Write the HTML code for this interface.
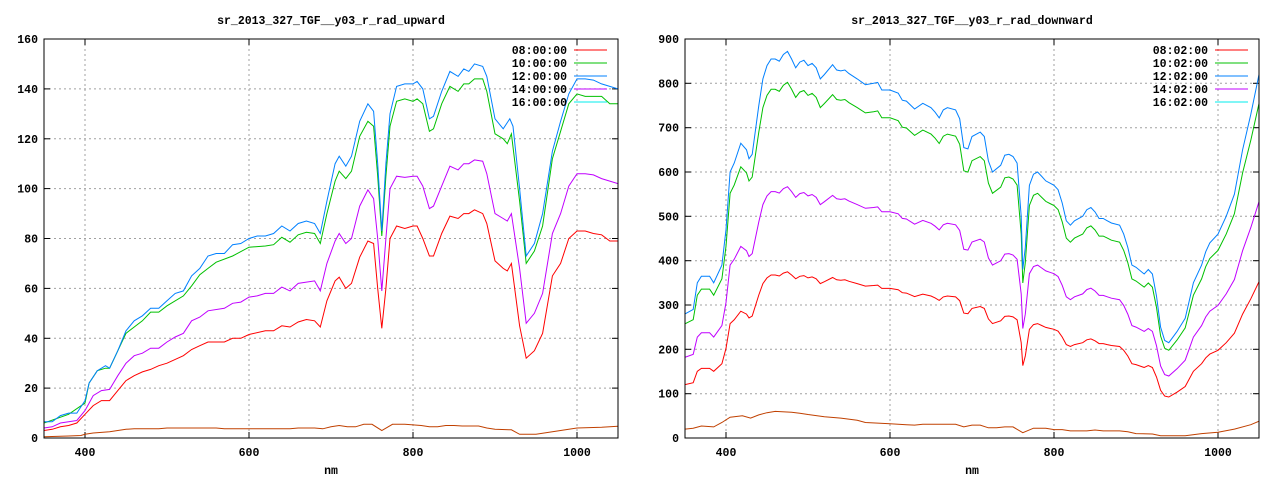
<!DOCTYPE html>
<html><head><meta charset="utf-8"><style>
html,body{margin:0;padding:0;background:#fff;}
svg text{font-family:"Liberation Mono","DejaVu Sans Mono",monospace;font-size:11.5px;font-weight:bold;fill:#000;}
</style></head><body>
<svg id="s" width="1280" height="480" xmlns="http://www.w3.org/2000/svg"></svg>
<script>
const S=document.getElementById('s');
let h='';
function P(a){const o=[];for(let i=0;i<a.length;i+=2)o.push([a[i],a[i+1]]);return o;}
const upB=P([350,6.5,360,6.5,370,9,380,10,390,10,400,15,405,22,415,27,425,29,430,28,440,35,450,43,460,47,470,49,480,52,490,52,500,55,510,58,520,59,530,65,540,68,550,73,560,74,570,74,580,77.5,590,78,600,80,610,81,620,81,630,82,640,85,650,83,660,86,670,87,680,86,687,82,695,95,705,110,710,113,718,109,725,113,735,127,745,134,752,131,757,110,762,83,767,110,772,130,780,141,790,142,800,142,805,143,812,140,820,128,825,129,835,139,845,147,855,145,862,148,868,147,875,150,885,149,890,145,900,128,910,124,918,128,922,125,930,100,938,73,948,78,958,90,970,115,980,127,990,138,1000,144,1010,144,1020,143.5,1030,142,1040,141,1050,140]);
const upG=P([350,6,380,9.5,400,14,405,22,415,27,425,28,430,28,450,42,470,47,480,50.5,490,50.5,500,53,520,57,530,61,540,65.5,550,68,560,70.5,580,73,600,76.5,620,77,630,77.5,640,80.5,650,78.5,660,81.5,670,82.5,680,82,687,78,695,90,705,103,710,107,718,104,725,107,735,121,745,127,752,125,757,105,762,81,767,105,772,125,780,135,790,136,800,135,805,136,812,134,820,123,825,124,835,134,845,141,855,139,862,142,868,142,875,144,885,144,890,139,900,122,910,120,915,118,920,122,930,95,938,70,948,75,958,85,970,112,980,123,990,134,1000,138,1010,137,1030,137,1040,134,1050,134]);
const upP=P([350,4,360,4.5,370,6,380,6.5,390,7,400,11,410,17,420,19,430,19.5,440,25,450,30,460,33,470,34,480,36,490,36,500,38.5,510,40.5,520,42,530,47,540,48.5,550,51,570,52,580,54,590,54.5,600,56.5,610,57,620,58,630,58,640,60.5,650,59,660,62,670,62.5,680,63,687,59,695,70,705,79,710,82,718,78,725,80,735,93,745,99.5,752,96,757,80,762,59,767,80,772,100,780,105,790,104.5,800,105,805,105,812,101,820,92,825,93,835,101,845,109,855,107.5,862,110,868,110,875,111.5,885,111,890,106,900,90,910,88,915,87,920,90,930,68,938,46,948,50,958,58,970,82,980,90,990,101,1000,106,1010,106,1020,105.5,1030,104,1040,103,1050,102]);
const upR=P([350,3,360,3.5,370,4.5,380,5,390,6,400,9.5,410,13,420,15,430,15,440,19,450,23,460,25,470,26.5,480,27.5,490,29,500,30,510,31.5,520,33,530,35.5,540,37,550,38.5,570,38.5,580,40,590,40,600,41.5,620,43,630,43,640,45,650,44.5,660,46.5,670,47.5,680,47,687,44.5,695,55,705,63,710,64.5,718,60,725,62,735,72.5,745,79,752,78,757,60,762,44,767,60,772,80,780,85,790,84,800,85,805,85,812,80,820,73,825,73,835,82,845,89,855,88,862,90,868,90,875,91.5,885,90,890,86,900,71,910,68,915,67,920,70,930,45,938,32,948,35,958,42,970,65,980,70,990,80,1000,83,1010,83,1020,82,1030,81.5,1040,79,1050,79]);
const upO=P([350,0.5,380,0.8,395,1,400,1.5,410,2,430,2.5,450,3.5,460,3.7,490,3.7,500,4,560,4,570,3.7,650,3.7,660,4,680,4,690,3.7,700,4.5,710,5,720,4.5,730,4.5,740,5.5,750,5.5,762,3,775,5.5,790,5.5,810,5,820,4.5,830,4.5,840,5,850,5,860,4.8,880,4.8,890,4,900,3.5,920,3.3,930,1.5,950,1.5,960,2,980,3,990,3.5,1000,4,1030,4.3,1040,4.5,1050,4.7]);
const dnB=P([350,280,360,290,365,350,370,365,380,365,385,350,395,390,400,470,405,600,410,620,418,665,425,650,428,630,432,640,440,750,445,810,450,840,455,855,460,855,465,850,470,865,475,872,480,855,485,835,490,848,495,852,500,840,505,845,510,835,515,810,520,820,530,842,535,830,540,828,545,830,550,822,560,810,570,797,580,800,585,802,590,785,600,785,610,778,615,762,620,760,630,742,640,755,650,745,655,735,660,722,665,740,670,745,680,740,685,720,690,655,695,652,700,680,710,690,715,680,720,625,725,600,735,615,740,638,745,640,750,635,755,620,760,500,762,380,765,430,770,570,775,595,780,600,785,590,790,580,795,575,800,570,805,560,810,530,815,490,820,480,825,490,835,500,840,515,845,520,850,510,855,495,860,495,865,490,870,485,880,480,885,460,890,430,895,390,900,385,910,370,915,380,920,370,925,320,930,250,935,220,940,215,950,240,960,270,965,310,970,350,980,390,985,420,990,440,1000,460,1010,500,1020,550,1030,650,1040,730,1050,820]);
const sc=(a,f)=>a.map(p=>[p[0],p[1]*f]);
const dnO=P([350,20,360,22,370,27,385,25,395,35,405,47,420,50,430,45,440,52,450,57,460,60,480,58,490,56,500,53,520,48,540,45,560,40,570,35,600,32,620,30,630,29,640,31,680,31,690,25,700,29,710,29,720,23,730,23,740,25,750,25,762,12,775,22,790,22,800,19,810,19,820,16,840,16,850,18,860,16,880,16,890,14,900,10,920,9,930,5,960,5,980,10,1000,13,1020,20,1040,30,1050,38]);

function chart(ox,title,ymax,ystep,series,labels){
  const L=ox+44,R=ox+618,T=39,B=438;
  const X=v=>L+(v-350)/700*(R-L), Y=v=>B-v/ymax*(B-T);
  h+=`<text x="${(L+R)/2}" y="24" text-anchor="middle">${title}</text>`;
  for(const xv of [400,600,800,1000]){const x=X(xv).toFixed(1);
    h+=`<line x1="${x}" y1="${T}" x2="${x}" y2="${B}" stroke="#a0a0a0" stroke-dasharray="2,3"/>`;
    h+=`<line x1="${x}" y1="${B}" x2="${x}" y2="${B-6}" stroke="#000"/><line x1="${x}" y1="${T}" x2="${x}" y2="${T+6}" stroke="#000"/>`;
    h+=`<text x="${x}" y="456" text-anchor="middle">${xv}</text>`;}
  for(let v=0;v<=ymax;v+=ystep){const y=Y(v).toFixed(1);
    if(v>0&&v<ymax)h+=`<line x1="${L}" y1="${y}" x2="${R}" y2="${y}" stroke="#a0a0a0" stroke-dasharray="2,3"/>`;
    h+=`<line x1="${L}" y1="${y}" x2="${L+6}" y2="${y}" stroke="#000"/><line x1="${R}" y1="${y}" x2="${R-6}" y2="${y}" stroke="#000"/>`;
    h+=`<text x="${L-6}" y="${(+y+4).toFixed(1)}" text-anchor="end">${v}</text>`;}
  h+=`<text x="${(L+R)/2}" y="474" text-anchor="middle">nm</text>`;
  h+=`<defs><clipPath id="c${ox}"><rect x="${L}" y="${T}" width="${R-L}" height="${B-T}"/></clipPath></defs>`;
  for(const [d,c] of series){
    h+=`<polyline clip-path="url(#c${ox})" fill="none" stroke="${c}" stroke-width="1" points="${d.map(p=>X(p[0]).toFixed(1)+','+Y(p[1]).toFixed(1)).join(' ')}"/>`;}
  const cols=['#ff0000','#00c000','#0080ff','#c000ff','#00eeee'];
  labels.forEach((t,i)=>{const y=50+i*13;
    h+=`<text x="${ox+567}" y="${y+4}" text-anchor="end">${t}</text>`;
    h+=`<line x1="${ox+574}" y1="${y}" x2="${ox+607}" y2="${y}" stroke="${cols[i]}"/>`;});
  h+=`<rect x="${L}" y="${T}" width="${R-L}" height="${B-T}" fill="none" stroke="#000"/>`;
}
chart(0,'sr_2013_327_TGF__y03_r_rad_upward',160,20,
 [[upO,'#c04000'],[upR,'#ff0000'],[upP,'#c000ff'],[upG,'#00c000'],[upB,'#0080ff']],
 ['08:00:00','10:00:00','12:00:00','14:00:00','16:00:00']);
chart(641,'sr_2013_327_TGF__y03_r_rad_downward',900,100,
 [[dnO,'#c04000'],[sc(dnB,0.43),'#ff0000'],[sc(dnB,0.65),'#c000ff'],[sc(dnB,0.92),'#00c000'],[dnB,'#0080ff']],
 ['08:02:00','10:02:00','12:02:00','14:02:00','16:02:00']);
S.innerHTML=h;
</script>
</body></html>
